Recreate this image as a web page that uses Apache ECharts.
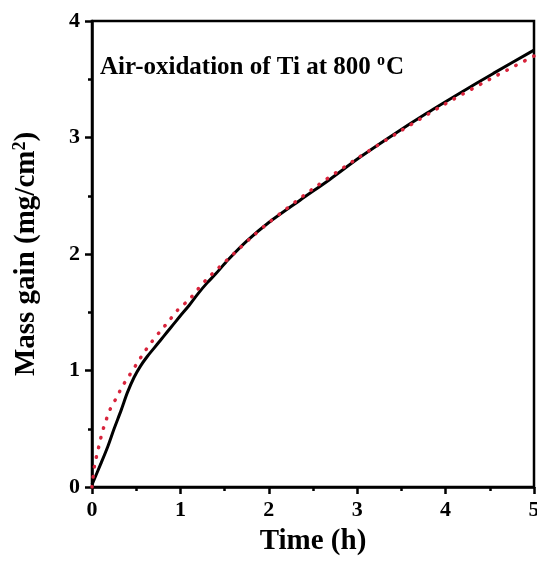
<!DOCTYPE html>
<html>
<head>
<meta charset="utf-8">
<script src="https://cdn.jsdelivr.net/npm/echarts@6/dist/echarts.min.js"></script>
<style>
  html, body { margin: 0; padding: 0; background: #fff; }
  #chart { width: 537px; height: 562px; }
</style>
</head>
<body>
<div id="chart"></div>
<script>
// measured mass gain (black solid)
const measuredTime = [0, 0.1, 0.18, 0.25, 0.33, 0.4, 0.475, 0.55, 0.625, 0.7, 0.775, 0.85, 0.925, 1.0, 1.1, 1.2, 1.3, 1.4, 1.54, 1.75, 2.0, 2.35, 2.69, 3.03, 3.4, 3.79, 4.16, 4.54, 5.0];
const measuredGain = [0.02, 0.2, 0.35, 0.5, 0.66, 0.81, 0.94, 1.04, 1.12, 1.19, 1.26, 1.33, 1.4, 1.47, 1.56, 1.66, 1.75, 1.83, 1.95, 2.11, 2.27, 2.46, 2.64, 2.83, 3.02, 3.21, 3.38, 3.55, 3.75];

// parabolic fit (red dotted)
const fitTime = [0, 0.03, 0.06, 0.09, 0.12, 0.16, 0.21, 0.28, 0.34, 0.42, 0.5, 0.58, 0.67, 0.77, 0.87, 0.97, 1.1, 1.2, 1.3, 1.43, 1.6, 1.8, 2.0, 2.5, 3.0, 3.5, 4.0, 4.5, 5.0];
const fitGain = [0, 0.19, 0.29, 0.39, 0.48, 0.575, 0.675, 0.77, 0.86, 0.955, 1.05, 1.145, 1.24, 1.335, 1.425, 1.52, 1.61, 1.7, 1.785, 1.88, 2.0, 2.14, 2.27, 2.56, 2.82, 3.06, 3.29, 3.5, 3.7];

const xTicks = [0, 1, 2, 3, 4, 5];
const yTicks = [0, 1, 2, 3, 4];

const chart = echarts.init(document.getElementById('chart'));
const serif = '"Liberation Serif", "Times New Roman", serif';

const axisCommon = {
  type: 'value',
  interval: 1,
  axisLine: { show: true, lineStyle: { color: '#000', width: 2.5 } },
  axisTick: { show: true, inside: false, length: 7, lineStyle: { color: '#000', width: 2.5 } },
  minorTick: { show: true, splitNumber: 2, length: 4, lineStyle: { color: '#000', width: 2.5 } },
  splitLine: { show: false },
  axisLabel: { color: '#000', fontFamily: serif, fontWeight: 'bold', fontSize: 22, margin: 12 },
  nameTextStyle: { color: '#000', fontFamily: serif, fontWeight: 'bold', fontSize: 29 }
};

const option = {
  animation: false,
  backgroundColor: '#fff',
  grid: {
    left: 92, right: 3, top: 21, bottom: 75,
    outerBoundsMode: 'none',
    containLabel: false,
    show: true, borderColor: '#000', borderWidth: 2.5
  },
  xAxis: Object.assign({}, axisCommon, {
    min: xTicks[0], max: xTicks[xTicks.length - 1],
    name: 'Time (h)',
    nameLocation: 'middle',
    nameGap: 40
  }),
  yAxis: Object.assign({}, axisCommon, {
    min: yTicks[0], max: yTicks[yTicks.length - 1],
    name: 'Mass gain (mg/cm{sup|2})',
    nameLocation: 'middle',
    nameGap: 50,
    nameTextStyle: Object.assign({}, axisCommon.nameTextStyle, {
      rich: {
        sup: { fontFamily: serif, fontWeight: 'bold', fontSize: 18, color: '#000', verticalAlign: 'top', padding: [0, 0, 13, 0] }
      }
    })
  }),
  graphic: [{
    type: 'text',
    left: 100,
    top: 53,
    style: {
      text: 'Air-oxidation of Ti at 800 {sup|o}C',
      fill: '#000',
      font: 'bold 25px ' + serif,
      rich: {
        sup: { fontFamily: serif, fontWeight: 'bold', fontSize: 16, fill: '#000', padding: [0, 1, 14, 0] }
      }
    }
  }],
  series: [
    {
      type: 'line',
      data: measuredTime.map((t, i) => [t, measuredGain[i]]),
      smooth: 0.3,
      showSymbol: false,
      lineStyle: { color: '#000', width: 3 },
      z: 2
    },
    {
      type: 'line',
      data: fitTime.map((t, i) => [t, fitGain[i]]),
      smooth: 0.3,
      showSymbol: false,
      lineStyle: { color: '#d8243c', width: 3.5, type: [0.5, 9.5], cap: 'round' },
      z: 3
    }
  ]
};

chart.setOption(option);
</script>
</body>
</html>
